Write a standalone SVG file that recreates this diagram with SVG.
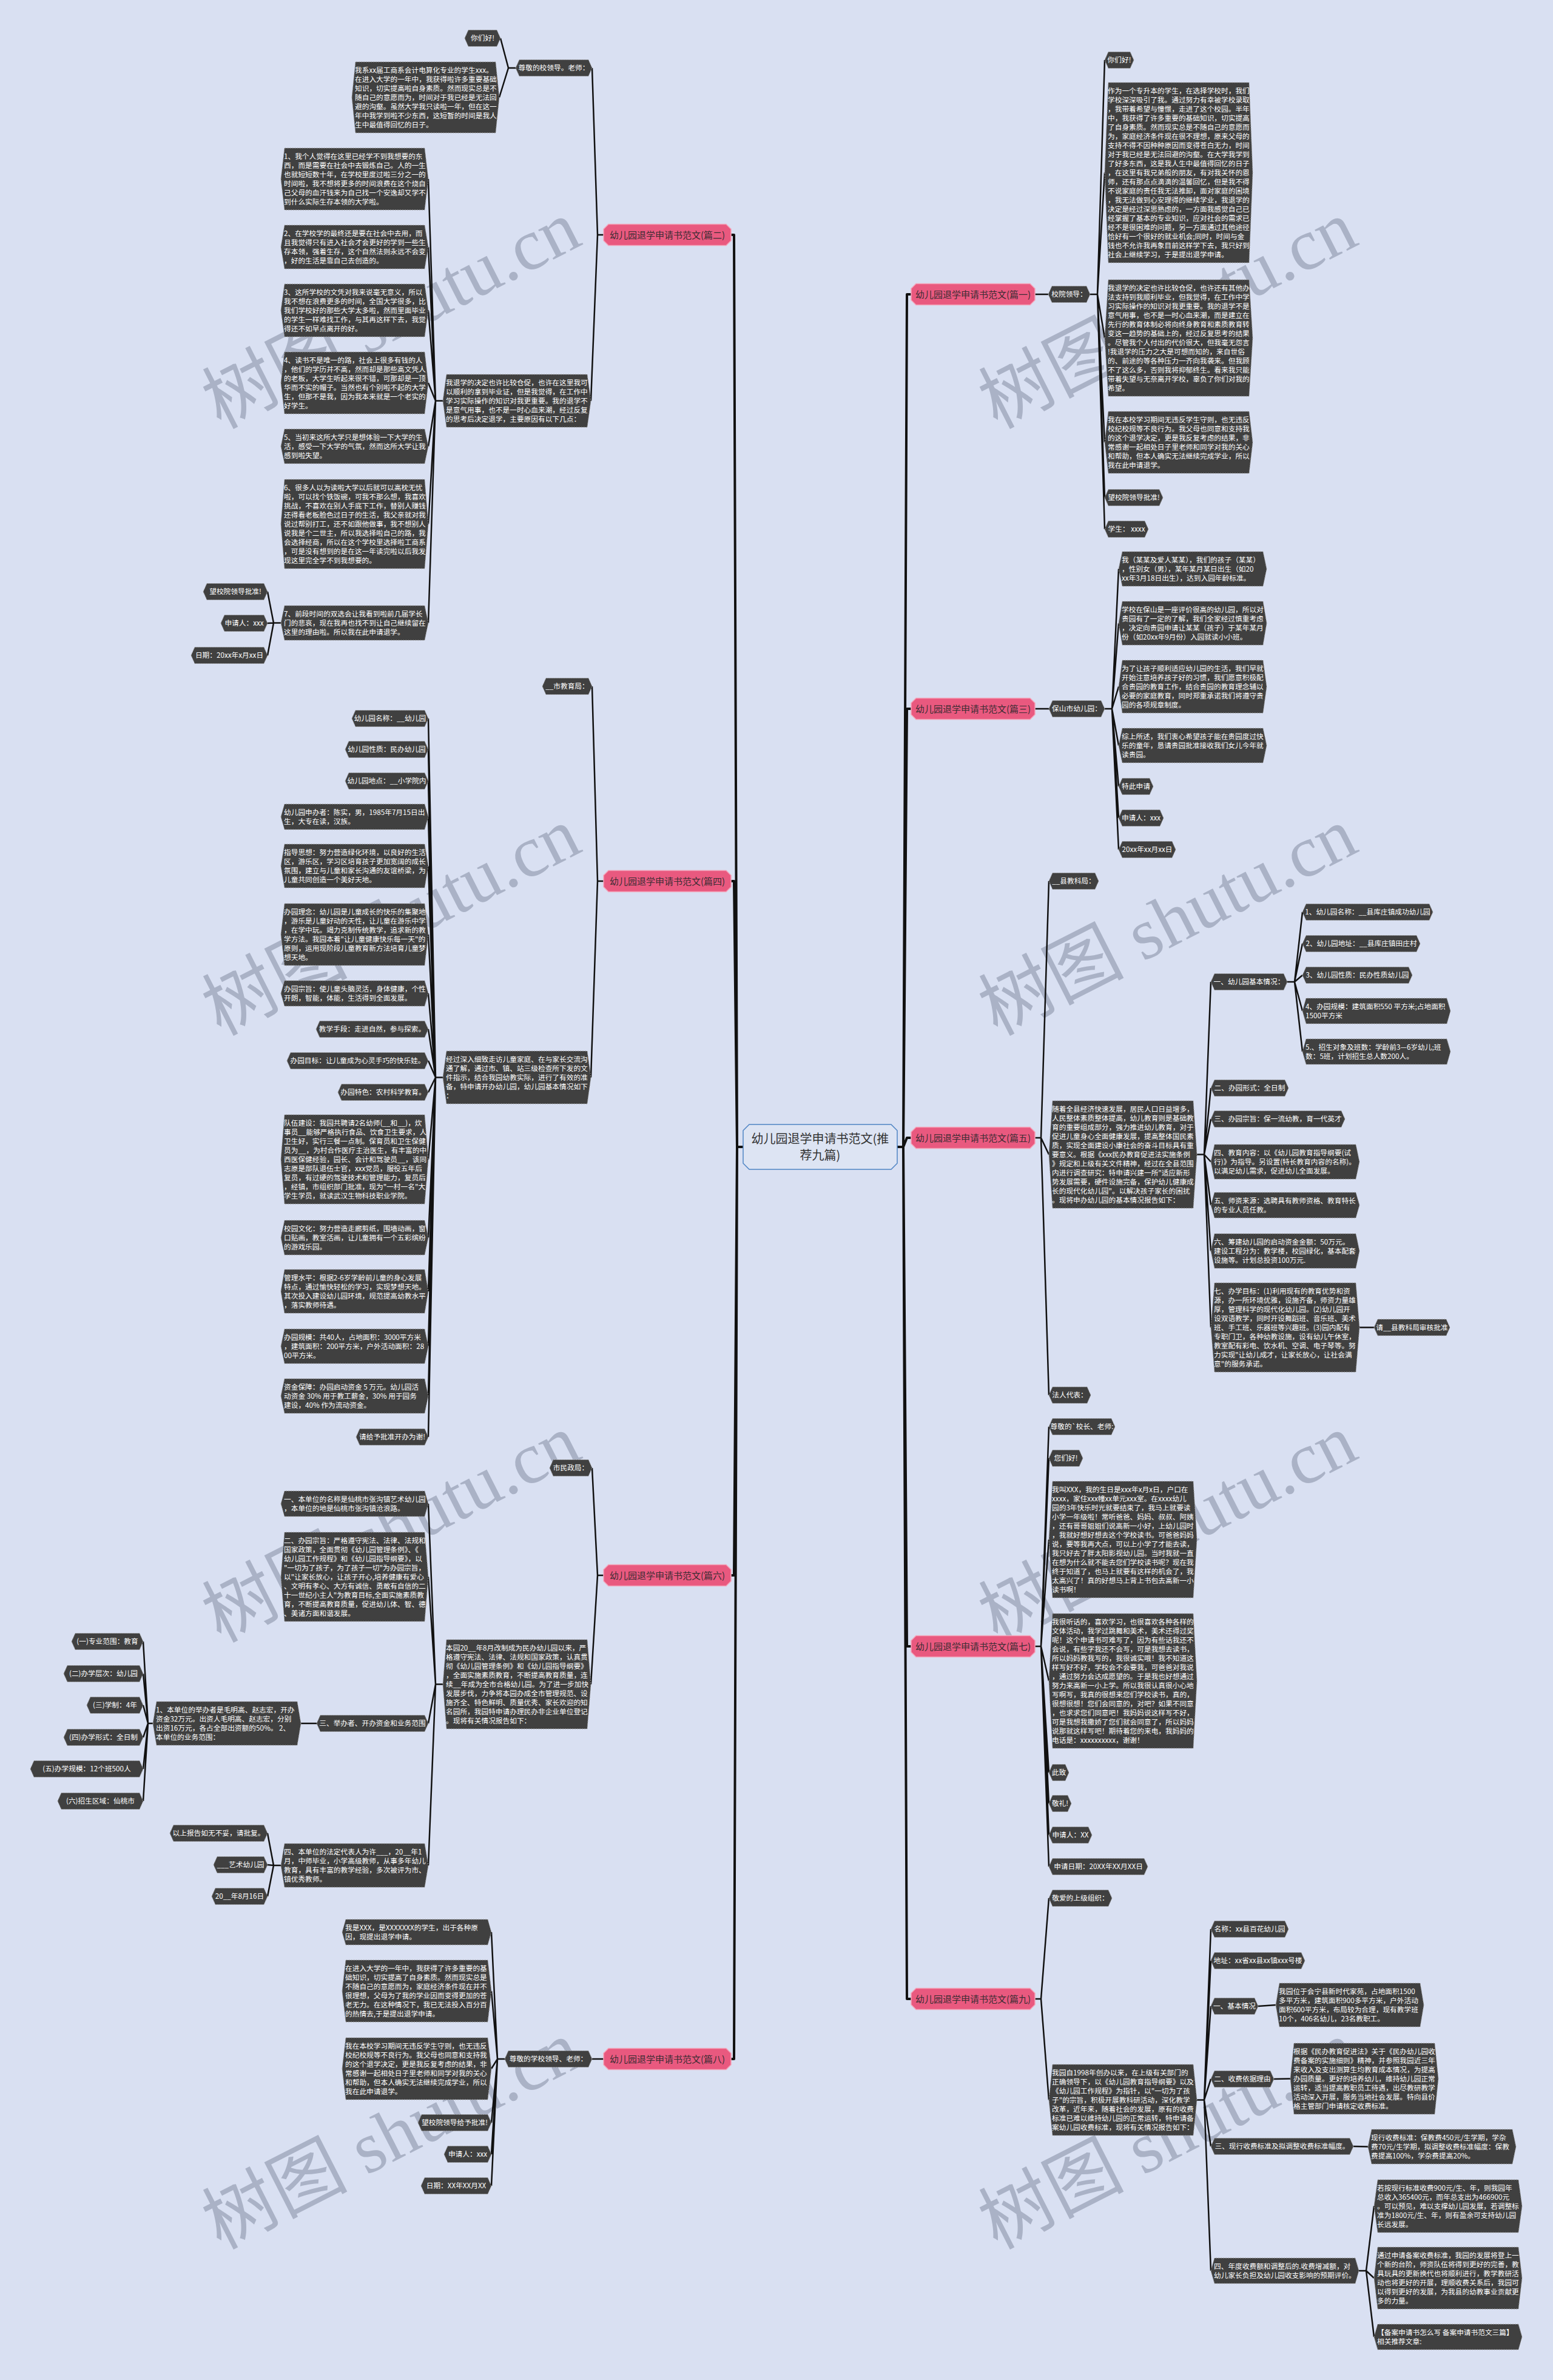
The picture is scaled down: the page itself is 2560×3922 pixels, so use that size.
<svg xmlns="http://www.w3.org/2000/svg" width="2560" height="3922" viewBox="0 0 2560 3922">
<style>
.bg{fill:#d9e0f2}
.wm{font-family:"Liberation Serif","Noto Sans CJK SC",serif;font-size:120px;fill:#aab2c6;text-anchor:middle}
.ln{fill:none;stroke:#111;stroke-width:2.5;stroke-linejoin:round}
.tr{stroke-width:4}
.n polygon{fill:#404040;stroke:#9a9a9a;stroke-width:1;stroke-dasharray:2 2}
.n text{font-family:"Noto Sans CJK SC","Noto Sans",sans-serif;font-size:11.7px;fill:#fff}
.c text{text-anchor:middle}
.p polygon{fill:#e9597f;stroke:#f4a3b9;stroke-width:1.5}
.p text{font-family:"Noto Sans CJK SC","Noto Sans",sans-serif;font-size:15px;fill:#3a2c33;text-anchor:middle}
.m polygon{fill:#dde4f3;stroke:#4f84c4;stroke-width:1.5}
.m text{font-family:"Noto Sans CJK SC","Noto Sans",sans-serif;font-size:20px;fill:#333;text-anchor:middle}
</style>
<rect class="bg" x="0" y="0" width="2560" height="3922"/>
<g id="watermarks">
<text class="wm" x="645" y="559" transform="rotate(-27 645 519)">树图 shutu.cn</text>
<text class="wm" x="1925" y="559" transform="rotate(-27 1925 519)">树图 shutu.cn</text>
<text class="wm" x="645" y="1559" transform="rotate(-27 645 1519)">树图 shutu.cn</text>
<text class="wm" x="1925" y="1559" transform="rotate(-27 1925 1519)">树图 shutu.cn</text>
<text class="wm" x="645" y="2559" transform="rotate(-27 645 2519)">树图 shutu.cn</text>
<text class="wm" x="1925" y="2559" transform="rotate(-27 1925 2519)">树图 shutu.cn</text>
<text class="wm" x="645" y="3559" transform="rotate(-27 645 3519)">树图 shutu.cn</text>
<text class="wm" x="1925" y="3559" transform="rotate(-27 1925 3519)">树图 shutu.cn</text>
</g>
<g id="connectors">
<path class="ln tr" d="M1225 1890H1215L1210 387H1205 M1225 1890H1215L1210 1452H1205 M1225 1890H1215L1210 2596H1205 M1225 1890H1215L1210 3393H1205"/>
<path class="ln tr" d="M1479 1890H1489L1495 485H1502 M1479 1890H1489L1495 1168H1502 M1479 1890H1489L1495 1875H1502 M1479 1890H1489L1495 2713H1502 M1479 1890H1489L1495 3294H1502"/>
<path class="ln" d="M995 387H985L976 112 M995 387H985L974 660.5"/>
<path class="ln" d="M850 112H838L825 63 M850 112H838L823 160.5"/>
<path class="ln" d="M730 660.5H718L706 295 M730 660.5H718L706 407 M730 660.5H718L706 511.5 M730 660.5H718L706 631 M730 660.5H718L706 735.5 M730 660.5H718L706 863.5 M730 660.5H718L706 1026.5"/>
<path class="ln" d="M463 1026.5H451L441 975 M463 1026.5H451L441 1027 M463 1026.5H451L441 1080"/>
<path class="ln" d="M995 1452H985L976 1131 M995 1452H985L974 1775.5"/>
<path class="ln" d="M730 1775.5H718L706 1184 M730 1775.5H718L706 1235 M730 1775.5H718L706 1287 M730 1775.5H718L706 1346 M730 1775.5H718L706 1427 M730 1775.5H718L706 1540 M730 1775.5H718L706 1637 M730 1775.5H718L706 1696 M730 1775.5H718L706 1748 M730 1775.5H718L706 1800 M730 1775.5H718L706 1910.5 M730 1775.5H718L706 2039.5 M730 1775.5H718L706 2128 M730 1775.5H718L706 2218.5 M730 1775.5H718L706 2300.5 M730 1775.5H718L706 2368"/>
<path class="ln" d="M995 2596H985L976 2419 M995 2596H985L974 2775.5"/>
<path class="ln" d="M730 2775.5H718L706 2478 M730 2775.5H718L706 2598.5 M730 2775.5H718L706 2840 M730 2775.5H718L706 3074"/>
<path class="ln" d="M522 2840H496"/>
<path class="ln" d="M252 2840H244L236 2705 M252 2840H244L236 2758 M252 2840H244L236 2810 M252 2840H244L236 2863 M252 2840H244L236 2915 M252 2840H244L236 2968"/>
<path class="ln" d="M463 3074H451L441 3021 M463 3074H451L441 3073 M463 3074H451L441 3125"/>
<path class="ln" d="M995 3393H976"/>
<path class="ln" d="M832 3393H820L810 3184 M832 3393H820L810 3281 M832 3393H820L810 3409 M832 3393H820L810 3498 M832 3393H820L810 3550 M832 3393H820L810 3602"/>
<path class="ln" d="M1706 485H1728"/>
<path class="ln" d="M1797 485H1809L1821 99 M1797 485H1809L1821 284.5 M1797 485H1809L1821 557 M1797 485H1809L1821 729 M1797 485H1809L1821 820 M1797 485H1809L1821 872"/>
<path class="ln" d="M1706 1168H1729"/>
<path class="ln" d="M1821 1168H1833L1844 937.5 M1821 1168H1833L1844 1027 M1821 1168H1833L1844 1131.5 M1821 1168H1833L1844 1228.5 M1821 1168H1833L1844 1296 M1821 1168H1833L1844 1348 M1821 1168H1833L1844 1400"/>
<path class="ln" d="M1706 1875H1716L1729 1452 M1706 1875H1716L1729 1902.5 M1706 1875H1716L1729 2299"/>
<path class="ln" d="M1973 1902.5H1985L1996 1618 M1973 1902.5H1985L1996 1793 M1973 1902.5H1985L1996 1844 M1973 1902.5H1985L1996 1914.5 M1973 1902.5H1985L1996 1986 M1973 1902.5H1985L1996 2061.5 M1973 1902.5H1985L1996 2187.5"/>
<path class="ln" d="M2122 1618H2134L2147 1503 M2122 1618H2134L2147 1555 M2122 1618H2134L2147 1607 M2122 1618H2134L2147 1666 M2122 1618H2134L2147 1733"/>
<path class="ln" d="M2241 2187.5H2265"/>
<path class="ln" d="M1706 2713H1716L1729 2351 M1706 2713H1716L1729 2403 M1706 2713H1716L1729 2537 M1706 2713H1716L1729 2770 M1706 2713H1716L1729 2921 M1706 2713H1716L1729 2972 M1706 2713H1716L1729 3024 M1706 2713H1716L1729 3076"/>
<path class="ln" d="M1706 3294H1716L1729 3128 M1706 3294H1716L1729 3460.5"/>
<path class="ln" d="M1973 3460.5H1985L1996 3179 M1973 3460.5H1985L1996 3231 M1973 3460.5H1985L1996 3306 M1973 3460.5H1985L1996 3426 M1973 3460.5H1985L1996 3537 M1973 3460.5H1985L1996 3742"/>
<path class="ln" d="M2074 3306L2103 3304 M2100 3426L2127 3425.5 M2231 3537L2255 3537.5"/>
<path class="ln" d="M2240 3742H2252L2265 3635.5 M2240 3742H2252L2265 3754 M2240 3742H2252L2265 3851"/>
</g>
<g id="center" class="m"><polygon points="1225,1863 1235,1853 1469,1853 1479,1863 1479,1917 1469,1927 1235,1927 1225,1917"/><text x="1352" y="1884">幼儿园退学申请书范文(推</text><text x="1352" y="1911">荐九篇)</text></g>
<g id="p2" class="p"><polygon points="995,377.5 1003,369.5 1197,369.5 1205,377.5 1205,396.5 1197,404.5 1003,404.5 995,396.5"/><text x="1100" y="392.5">幼儿园退学申请书范文(篇二)</text></g>
<g id="p4" class="p"><polygon points="995,1442.5 1003,1434.5 1197,1434.5 1205,1442.5 1205,1461.5 1197,1469.5 1003,1469.5 995,1461.5"/><text x="1100" y="1457.5">幼儿园退学申请书范文(篇四)</text></g>
<g id="p6" class="p"><polygon points="995,2586.5 1003,2578.5 1197,2578.5 1205,2586.5 1205,2605.5 1197,2613.5 1003,2613.5 995,2605.5"/><text x="1100" y="2601.5">幼儿园退学申请书范文(篇六)</text></g>
<g id="p8" class="p"><polygon points="995,3383.5 1003,3375.5 1197,3375.5 1205,3383.5 1205,3402.5 1197,3410.5 1003,3410.5 995,3402.5"/><text x="1100" y="3398.5">幼儿园退学申请书范文(篇八)</text></g>
<g id="p1" class="p"><polygon points="1502,475.5 1510,467.5 1698,467.5 1706,475.5 1706,494.5 1698,502.5 1510,502.5 1502,494.5"/><text x="1604" y="490.5">幼儿园退学申请书范文(篇一)</text></g>
<g id="p3" class="p"><polygon points="1502,1158.5 1510,1150.5 1698,1150.5 1706,1158.5 1706,1177.5 1698,1185.5 1510,1185.5 1502,1177.5"/><text x="1604" y="1173.5">幼儿园退学申请书范文(篇三)</text></g>
<g id="p5" class="p"><polygon points="1502,1865.5 1510,1857.5 1698,1857.5 1706,1865.5 1706,1884.5 1698,1892.5 1510,1892.5 1502,1884.5"/><text x="1604" y="1880.5">幼儿园退学申请书范文(篇五)</text></g>
<g id="p7" class="p"><polygon points="1502,2703.5 1510,2695.5 1698,2695.5 1706,2703.5 1706,2722.5 1698,2730.5 1510,2730.5 1502,2722.5"/><text x="1604" y="2718.5">幼儿园退学申请书范文(篇七)</text></g>
<g id="p9" class="p"><polygon points="1502,3284.5 1510,3276.5 1698,3276.5 1706,3284.5 1706,3303.5 1698,3311.5 1510,3311.5 1502,3303.5"/><text x="1604" y="3299.5">幼儿园退学申请书范文(篇九)</text></g>

<g id="a1" class="n c"><polygon points="850,112 856,98.5 970,98.5 976,112 970,125.5 856,125.5"/><text x="913" y="116.3">尊敬的校领导。老师：</text></g>
<g id="a1a" class="n c"><polygon points="766,63 772,49.5 819,49.5 825,63 819,76.5 772,76.5"/><text x="795.5" y="67.3">你们好!</text></g>
<g id="a1b" class="n"><polygon points="580,160.5 586,102 817,102 823,160.5 817,219 586,219"/><text x="585" y="120"><tspan x="585">我系xx届工商系会计电算化专业的学生xxx。</tspan><tspan x="585" dy="15">在进入大学的一年中，我获得啦许多重要基础</tspan><tspan x="585" dy="15">知识，切实提高啦自身素质。然而现实总是不</tspan><tspan x="585" dy="15">随自己的意愿而为，时间对于我已经是无法回</tspan><tspan x="585" dy="15">避的沟壑。虽然大学我只读啦一年，但在这一</tspan><tspan x="585" dy="15">年中我学到啦不少东西，这短暂的时间是我人</tspan><tspan x="585" dy="15">生中最值得回忆的日子。</tspan></text></g>
<g id="b1" class="n"><polygon points="730,660.5 736,617 968,617 974,660.5 968,704 736,704"/><text x="735" y="635"><tspan x="735">我退学的决定也许比较仓促，也许在这里我可</tspan><tspan x="735" dy="15">以顺利的拿到毕业证，但是我觉得，在工作中</tspan><tspan x="735" dy="15">学习实际操作的知识对我更重要。我的退学不</tspan><tspan x="735" dy="15">是意气用事，也不是一时心血来潮，经过反复</tspan><tspan x="735" dy="15">的思考后决定退学，主要原因有以下几点：</tspan></text></g>
<g id="b1-1" class="n"><polygon points="463,295 469,244 700,244 706,295 700,346 469,346"/><text x="468" y="262"><tspan x="468">1、我个人觉得在这里已经学不到我想要的东</tspan><tspan x="468" dy="15">西，而是需要在社会中去锻炼自己。人的一生</tspan><tspan x="468" dy="15">也就短短数十年，在学校里度过啦三分之一的</tspan><tspan x="468" dy="15">时间啦，我不想将更多的时间浪费在这个烧自</tspan><tspan x="468" dy="15">己父母的血汗钱来为自己找一个安逸却又学不</tspan><tspan x="468" dy="15">到什么实际生存本领的大学啦。</tspan></text></g>
<g id="b1-2" class="n"><polygon points="463,407 469,371 700,371 706,407 700,443 469,443"/><text x="468" y="389"><tspan x="468">2、在学校学的最终还是要在社会中去用，而</tspan><tspan x="468" dy="15">且我觉得只有进入社会才会更好的学到一些生</tspan><tspan x="468" dy="15">存本领，强着生存，这个自然法则永远不会变</tspan><tspan x="468" dy="15">，好的生活是靠自己去创造的。</tspan></text></g>
<g id="b1-3" class="n"><polygon points="463,511.5 469,468 700,468 706,511.5 700,555 469,555"/><text x="468" y="486"><tspan x="468">3、这所学校的文凭对我来说毫无意义，所以</tspan><tspan x="468" dy="15">我不想在浪费更多的时间，全国大学很多，比</tspan><tspan x="468" dy="15">我们学校好的那些大学太多啦，然而里面毕业</tspan><tspan x="468" dy="15">的学生一样难找工作，与其再这样下去，我觉</tspan><tspan x="468" dy="15">得还不如早点离开的好。</tspan></text></g>
<g id="b1-4" class="n"><polygon points="463,631 469,580 700,580 706,631 700,682 469,682"/><text x="468" y="598"><tspan x="468">4、读书不是唯一的路，社会上很多有钱的人</tspan><tspan x="468" dy="15">，他们的学历并不高，然而却是那些高文凭人</tspan><tspan x="468" dy="15">的老板，大学生听起来很不错，可那却是一顶</tspan><tspan x="468" dy="15">华而不实的帽子。当然也有个别啦不起的大学</tspan><tspan x="468" dy="15">生，但那不是我，因为我本来就是一个老实的</tspan><tspan x="468" dy="15">好学生。</tspan></text></g>
<g id="b1-5" class="n"><polygon points="463,735.5 469,707 700,707 706,735.5 700,764 469,764"/><text x="468" y="725"><tspan x="468">5、当初来这所大学只是想体验一下大学的生</tspan><tspan x="468" dy="15">活，感受一下大学的气氛，然而这所大学让我</tspan><tspan x="468" dy="15">感到啦失望。</tspan></text></g>
<g id="b1-6" class="n"><polygon points="463,863.5 469,790 700,790 706,863.5 700,937 469,937"/><text x="468" y="808"><tspan x="468">6、很多人以为读啦大学以后就可以高枕无忧</tspan><tspan x="468" dy="15">啦，可以找个铁饭碗，可我不那么想，我喜欢</tspan><tspan x="468" dy="15">挑战，不喜欢在别人手底下工作，替别人赚钱</tspan><tspan x="468" dy="15">还得看老板脸色过日子的生活，我父亲就对我</tspan><tspan x="468" dy="15">说过帮别打工，还不如跟他做事，我不想别人</tspan><tspan x="468" dy="15">说我是个二世主，所以我选择啦自己的路，我</tspan><tspan x="468" dy="15">会选择经商，所以在这个学校里选择啦工商系</tspan><tspan x="468" dy="15">，可是没有想到的是在这一年读完啦以后我发</tspan><tspan x="468" dy="15">现这里完全学不到我想要的。</tspan></text></g>
<g id="b1-7" class="n"><polygon points="463,1026.5 469,998 700,998 706,1026.5 700,1055 469,1055"/><text x="468" y="1016"><tspan x="468">7、前段时间的双选会让我看到啦前几届学长</tspan><tspan x="468" dy="15">门的悲哀，现在我再也找不到让自己继续留在</tspan><tspan x="468" dy="15">这里的理由啦。所以我在此申请退学。</tspan></text></g>
<g id="b1-7a" class="n c"><polygon points="335,975 341,961.5 435,961.5 441,975 435,988.5 341,988.5"/><text x="388" y="979.3">望校院领导批准!</text></g>
<g id="b1-7b" class="n c"><polygon points="364,1027 370,1013.5 435,1013.5 441,1027 435,1040.5 370,1040.5"/><text x="402.5" y="1031.3">申请人：xxx</text></g>
<g id="b1-7c" class="n c"><polygon points="315,1080 321,1066.5 435,1066.5 441,1080 435,1093.5 321,1093.5"/><text x="378" y="1084.3">日期：20xx年x月xx日</text></g>

<g id="a2" class="n c"><polygon points="894,1131 900,1117.5 970,1117.5 976,1131 970,1144.5 900,1144.5"/><text x="935" y="1135.3">__市教育局：</text></g>
<g id="b2" class="n"><polygon points="730,1775.5 736,1732 968,1732 974,1775.5 968,1819 736,1819"/><text x="735" y="1750"><tspan x="735">经过深入细致走访儿童家庭、在与家长交流沟</tspan><tspan x="735" dy="15">通了解，通过市、镇、站三级检查所下发的文</tspan><tspan x="735" dy="15">件指示，结合我园幼教实际，进行了有效的准</tspan><tspan x="735" dy="15">备，特申请开办幼儿园，幼儿园基本情况如下</tspan><tspan x="735" dy="15">：</tspan></text></g>
<g id="c1" class="n c"><polygon points="580,1184 586,1170.5 700,1170.5 706,1184 700,1197.5 586,1197.5"/><text x="643" y="1188.3">幼儿园名称：__幼儿园</text></g>
<g id="c2" class="n c"><polygon points="569,1235 575,1221.5 700,1221.5 706,1235 700,1248.5 575,1248.5"/><text x="637.5" y="1239.3">幼儿园性质：民办幼儿园</text></g>
<g id="c3" class="n c"><polygon points="569,1287 575,1273.5 700,1273.5 706,1287 700,1300.5 575,1300.5"/><text x="637.5" y="1291.3">幼儿园地点：__小学院内</text></g>
<g id="c4" class="n"><polygon points="463,1346 469,1325 700,1325 706,1346 700,1367 469,1367"/><text x="468" y="1343"><tspan x="468">幼儿园申办者：陈实，男，1985年7月15日出</tspan><tspan x="468" dy="15">生，大专在读，汉族。</tspan></text></g>
<g id="c5" class="n"><polygon points="463,1427 469,1391 700,1391 706,1427 700,1463 469,1463"/><text x="468" y="1409"><tspan x="468">指导思想：努力营造绿化环境，以良好的生活</tspan><tspan x="468" dy="15">区，游乐区，学习区培育孩子更加宽阔的成长</tspan><tspan x="468" dy="15">氛围，建立与儿童和家长沟通的友谊桥梁，为</tspan><tspan x="468" dy="15">儿童共同创造一个美好天地。</tspan></text></g>
<g id="c6" class="n"><polygon points="463,1540 469,1489 700,1489 706,1540 700,1591 469,1591"/><text x="468" y="1507"><tspan x="468">办园理念：幼儿园是儿童成长的快乐的集聚地</tspan><tspan x="468" dy="15">，游乐是儿童好动的天性，让儿童在游乐中学</tspan><tspan x="468" dy="15">，在学中玩。竭力克制传统教学，追求新的教</tspan><tspan x="468" dy="15">学方法。我园本着"让儿童健康快乐每一天"的</tspan><tspan x="468" dy="15">原则，运用现阶段儿童教育新方法培育儿童梦</tspan><tspan x="468" dy="15">想天地。</tspan></text></g>
<g id="c7" class="n"><polygon points="463,1637 469,1616 700,1616 706,1637 700,1658 469,1658"/><text x="468" y="1634"><tspan x="468">办园宗旨：使儿童头脑灵活，身体健康，个性</tspan><tspan x="468" dy="15">开朗，智能，体能，生活得到全面发展。</tspan></text></g>
<g id="c8" class="n c"><polygon points="521,1696 527,1682.5 700,1682.5 706,1696 700,1709.5 527,1709.5"/><text x="613.5" y="1700.3">教学手段：走进自然，参与探索。</text></g>
<g id="c9" class="n c"><polygon points="473,1748 479,1734.5 700,1734.5 706,1748 700,1761.5 479,1761.5"/><text x="589.5" y="1752.3">办园目标：让儿童成为心灵手巧的快乐娃。</text></g>
<g id="c10" class="n c"><polygon points="557,1800 563,1786.5 700,1786.5 706,1800 700,1813.5 563,1813.5"/><text x="631.5" y="1804.3">办园特色：农村科学教育。</text></g>
<g id="c11" class="n"><polygon points="463,1910.5 469,1837 700,1837 706,1910.5 700,1984 469,1984"/><text x="468" y="1855"><tspan x="468">队伍建设：我园共聘请2名幼师(__和__)，炊</tspan><tspan x="468" dy="15">事员__能够严格执行食品、饮食卫生要求，人</tspan><tspan x="468" dy="15">卫生好，实行三餐一点制。保育员和卫生保健</tspan><tspan x="468" dy="15">员为__，为村合作医疗主治医生，有丰富的中</tspan><tspan x="468" dy="15">西医保健经验，园长、会计和驾驶员__，该同</tspan><tspan x="468" dy="15">志原是部队退伍士官，xxx党员，服役五年后</tspan><tspan x="468" dy="15">复员，有过硬的驾驶技术和管理能力，复员后</tspan><tspan x="468" dy="15">，经镇，市组织部门批准，现为"一村一名"大</tspan><tspan x="468" dy="15">学生学员，就读武汉生物科技职业学院。</tspan></text></g>
<g id="c12" class="n"><polygon points="463,2039.5 469,2011 700,2011 706,2039.5 700,2068 469,2068"/><text x="468" y="2029"><tspan x="468">校园文化：努力营造走廊剪纸，围墙动画，窗</tspan><tspan x="468" dy="15">口贴画，教室活画，让儿童拥有一个五彩缤纷</tspan><tspan x="468" dy="15">的游戏乐园。</tspan></text></g>
<g id="c13" class="n"><polygon points="463,2128 469,2092 700,2092 706,2128 700,2164 469,2164"/><text x="468" y="2110"><tspan x="468">管理水平：根据2-6岁学龄前儿童的身心发展</tspan><tspan x="468" dy="15">特点，通过愉快轻松的学习，实现梦想天地。</tspan><tspan x="468" dy="15">其次投入建设幼儿园环境，规范提高幼教水平</tspan><tspan x="468" dy="15">，落实教师待遇。</tspan></text></g>
<g id="c14" class="n"><polygon points="463,2218.5 469,2190 700,2190 706,2218.5 700,2247 469,2247"/><text x="468" y="2208"><tspan x="468">办园规模：共40人，占地面积：3000平方米</tspan><tspan x="468" dy="15">，建筑面积：200平方米，户外活动面积：28</tspan><tspan x="468" dy="15">00平方米。</tspan></text></g>
<g id="c15" class="n"><polygon points="463,2300.5 469,2272 700,2272 706,2300.5 700,2329 469,2329"/><text x="468" y="2290"><tspan x="468">资金保障：办园启动资金 5 万元。幼儿园活</tspan><tspan x="468" dy="15">动资金 30% 用于教工薪金，30% 用于园务</tspan><tspan x="468" dy="15">建设，40% 作为流动资金。</tspan></text></g>
<g id="c16" class="n c"><polygon points="587,2368 593,2354.5 700,2354.5 706,2368 700,2381.5 593,2381.5"/><text x="646.5" y="2372.3">请给予批准开办为谢!</text></g>

<g id="a3" class="n c"><polygon points="906,2419 912,2405.5 970,2405.5 976,2419 970,2432.5 912,2432.5"/><text x="941" y="2423.3">市民政局：</text></g>
<g id="b3" class="n"><polygon points="730,2775.5 736,2702 968,2702 974,2775.5 968,2849 736,2849"/><text x="735" y="2720"><tspan x="735">本园20__年8月改制成为民办幼儿园以来，严</tspan><tspan x="735" dy="15">格遵守宪法、法律、法规和国家政策，认真贯</tspan><tspan x="735" dy="15">彻《幼儿园管理条例》和《幼儿园指导纲要》</tspan><tspan x="735" dy="15">，全面实施素质教育，不断提高教育质量，连</tspan><tspan x="735" dy="15">续__年成为全市合格幼儿园。为了进一步加快</tspan><tspan x="735" dy="15">发展步伐，力争将本园办成全市管理规范、设</tspan><tspan x="735" dy="15">施齐全、特色鲜明、质量优秀、家长欢迎的知</tspan><tspan x="735" dy="15">名园所，我园特申请办理民办非企业单位登记</tspan><tspan x="735" dy="15">。现将有关情况报告如下：</tspan></text></g>
<g id="d1" class="n"><polygon points="463,2478 469,2457 700,2457 706,2478 700,2499 469,2499"/><text x="468" y="2475"><tspan x="468">一、本单位的名称是仙桃市张沟镇艺术幼儿园</tspan><tspan x="468" dy="15">，本单位的地是仙桃市张沟镇沧浪路。</tspan></text></g>
<g id="d2" class="n"><polygon points="463,2598.5 469,2525 700,2525 706,2598.5 700,2672 469,2672"/><text x="468" y="2543"><tspan x="468">二、办园宗旨：严格遵守宪法、法律、法规和</tspan><tspan x="468" dy="15">国家政策，全面贯彻《幼儿园管理条例》、《</tspan><tspan x="468" dy="15">幼儿园工作规程》和《幼儿园指导纲要》，以</tspan><tspan x="468" dy="15">"一切为了孩子，为了孩子一切"为办园宗旨，</tspan><tspan x="468" dy="15">以"让家长放心，让孩子开心,培养健康有爱心</tspan><tspan x="468" dy="15">、文明有孝心、大方有诚信、勇敢有自信的二</tspan><tspan x="468" dy="15">十一世纪小主人"为教育目标,全面实施素质教</tspan><tspan x="468" dy="15">育，不断提高教育质量，促进幼儿体、智、德</tspan><tspan x="468" dy="15">、美诸方面和谐发展。</tspan></text></g>
<g id="d3" class="n c"><polygon points="522,2840 528,2826.5 700,2826.5 706,2840 700,2853.5 528,2853.5"/><text x="614" y="2844.3">三、举办者、开办资金和业务范围</text></g>
<g id="d3a" class="n"><polygon points="252,2840 258,2804 490,2804 496,2840 490,2876 258,2876"/><text x="257" y="2822"><tspan x="257">1、本单位的举办者是毛明高、赵志宏，开办</tspan><tspan x="257" dy="15">资金32万元。出资人毛明高、赵志宏，分别</tspan><tspan x="257" dy="15">出资16万元，各占全部出资额的50%。 2、</tspan><tspan x="257" dy="15">本单位的业务范围：</tspan></text></g>
<g id="d3a1" class="n c"><polygon points="118,2705 124,2691.5 230,2691.5 236,2705 230,2718.5 124,2718.5"/><text x="177" y="2709.3">(一)专业范围：教育</text></g>
<g id="d3a2" class="n c"><polygon points="105,2758 111,2744.5 230,2744.5 236,2758 230,2771.5 111,2771.5"/><text x="170.5" y="2762.3">(二)办学层次：幼儿园</text></g>
<g id="d3a3" class="n c"><polygon points="143,2810 149,2796.5 230,2796.5 236,2810 230,2823.5 149,2823.5"/><text x="189.5" y="2814.3">(三)学制：4年</text></g>
<g id="d3a4" class="n c"><polygon points="105,2863 111,2849.5 230,2849.5 236,2863 230,2876.5 111,2876.5"/><text x="170.5" y="2867.3">(四)办学形式：全日制</text></g>
<g id="d3a5" class="n c"><polygon points="50,2915 56,2901.5 230,2901.5 236,2915 230,2928.5 56,2928.5"/><text x="143" y="2919.3">(五)办学规模：12个班500人</text></g>
<g id="d3a6" class="n c"><polygon points="95,2968 101,2954.5 230,2954.5 236,2968 230,2981.5 101,2981.5"/><text x="165.5" y="2972.3">(六)招生区域：仙桃市</text></g>
<g id="d4" class="n"><polygon points="463,3074 469,3038 700,3038 706,3074 700,3110 469,3110"/><text x="468" y="3056"><tspan x="468">四、本单位的法定代表人为许___，20__年1</tspan><tspan x="468" dy="15">月，中师毕业，小学高级教师，从事多年幼儿</tspan><tspan x="468" dy="15">教育，具有丰富的教学经验，多次被评为市、</tspan><tspan x="468" dy="15">镇优秀教师。</tspan></text></g>
<g id="d4a" class="n c"><polygon points="280,3021 286,3007.5 435,3007.5 441,3021 435,3034.5 286,3034.5"/><text x="360.5" y="3025.3">以上报告如无不妥，请批复。</text></g>
<g id="d4b" class="n c"><polygon points="352,3073 358,3059.5 435,3059.5 441,3073 435,3086.5 358,3086.5"/><text x="396.5" y="3077.3">___艺术幼儿园</text></g>
<g id="d4c" class="n c"><polygon points="349,3125 355,3111.5 435,3111.5 441,3125 435,3138.5 355,3138.5"/><text x="395" y="3129.3">20__年8月16日</text></g>

<g id="a4" class="n c"><polygon points="832,3393 838,3379.5 970,3379.5 976,3393 970,3406.5 838,3406.5"/><text x="904" y="3397.3">尊敬的学校领导、老师：</text></g>
<g id="e1" class="n"><polygon points="564,3184 570,3163 804,3163 810,3184 804,3205 570,3205"/><text x="569" y="3181"><tspan x="569">我是XXX，是XXXXXXX的学生，出于各种原</tspan><tspan x="569" dy="15">因，现提出退学申请。</tspan></text></g>
<g id="e2" class="n"><polygon points="564,3281 570,3230 804,3230 810,3281 804,3332 570,3332"/><text x="569" y="3248"><tspan x="569">在进入大学的一年中，我获得了许多重要的基</tspan><tspan x="569" dy="15">础知识，切实提高了自身素质。然而现实总是</tspan><tspan x="569" dy="15">不随自己的意愿而为，家庭经济条件现在并不</tspan><tspan x="569" dy="15">很理想，父母为了我的学业因而变得更加的苍</tspan><tspan x="569" dy="15">老无力。在这种情况下，我已无法投入百分百</tspan><tspan x="569" dy="15">的热情去,于是提出退学申请。</tspan></text></g>
<g id="e3" class="n"><polygon points="564,3409 570,3358 804,3358 810,3409 804,3460 570,3460"/><text x="569" y="3376"><tspan x="569">我在本校学习期间无违反学生守则，也无违反</tspan><tspan x="569" dy="15">校纪校规等不良行为。我父母也同意和支持我</tspan><tspan x="569" dy="15">的这个退学决定，更是我反复考虑的结果，非</tspan><tspan x="569" dy="15">常感谢一起相处日子里老师和同学对我的关心</tspan><tspan x="569" dy="15">和帮助，但本人确实无法继续完成学业，所以</tspan><tspan x="569" dy="15">我在此申请退学。</tspan></text></g>
<g id="e4" class="n c"><polygon points="689,3498 695,3484.5 804,3484.5 810,3498 804,3511.5 695,3511.5"/><text x="749.5" y="3502.3">望校院领导给予批准!</text></g>
<g id="e5" class="n c"><polygon points="732,3550 738,3536.5 804,3536.5 810,3550 804,3563.5 738,3563.5"/><text x="771" y="3554.3">申请人：xxx</text></g>
<g id="e6" class="n c"><polygon points="694,3602 700,3588.5 804,3588.5 810,3602 804,3615.5 700,3615.5"/><text x="752" y="3606.3">日期：XX年XX月XX</text></g>

<g id="r1" class="n c"><polygon points="1728,485 1734,471.5 1791,471.5 1797,485 1791,498.5 1734,498.5"/><text x="1762.5" y="489.3">校院领导：</text></g>
<g id="f1" class="n c"><polygon points="1821,99 1827,85.5 1863,85.5 1869,99 1863,112.5 1827,112.5"/><text x="1845" y="103.3">你们好!</text></g>
<g id="f2" class="n"><polygon points="1821,284.5 1827,136 2059,136 2065,284.5 2059,433 1827,433"/><text x="1826" y="154"><tspan x="1826">作为一个专升本的学生，在选择学校时，我们</tspan><tspan x="1826" dy="15">学校深深吸引了我。通过努力有幸被学校录取</tspan><tspan x="1826" dy="15">，我带着希望与憧憬，走进了这个校园。半年</tspan><tspan x="1826" dy="15">中，我获得了许多重要的基础知识，切实提高</tspan><tspan x="1826" dy="15">了自身素质。然而现实总是不随自己的意愿而</tspan><tspan x="1826" dy="15">为，家庭经济条件现在很不理想，原来父母的</tspan><tspan x="1826" dy="15">支持不得不因种种原因而变得苍白无力，时间</tspan><tspan x="1826" dy="15">对于我已经是无法回避的沟壑。在大学我学到</tspan><tspan x="1826" dy="15">了好多东西，这是我人生中最值得回忆的日子</tspan><tspan x="1826" dy="15">，在这里有我兄弟般的朋友，有对我关怀的恩</tspan><tspan x="1826" dy="15">师，还有那点点滴滴的温馨回忆，但是我不得</tspan><tspan x="1826" dy="15">不说家庭的责任我无法推卸，面对家庭的困境</tspan><tspan x="1826" dy="15">，我无法做到心安理得的继续学业，我退学的</tspan><tspan x="1826" dy="15">决定是经过深思熟虑的，一方面我感觉自己已</tspan><tspan x="1826" dy="15">经掌握了基本的专业知识，应对社会的需求已</tspan><tspan x="1826" dy="15">经不是很困难的问题，另一方面通过其他途径</tspan><tspan x="1826" dy="15">恰好有一个很好的就业机会;同时，时间与金</tspan><tspan x="1826" dy="15">钱也不允许我再象目前这样学下去，我只好到</tspan><tspan x="1826" dy="15">社会上继续学习，于是提出退学申请。</tspan></text></g>
<g id="f3" class="n"><polygon points="1821,557 1827,461 2059,461 2065,557 2059,653 1827,653"/><text x="1826" y="479"><tspan x="1826">我退学的决定也许比较仓促，也许还有其他办</tspan><tspan x="1826" dy="15">法支持到我顺利毕业，但我觉得，在工作中学</tspan><tspan x="1826" dy="15">习实际操作的知识对我更重要。我的退学不是</tspan><tspan x="1826" dy="15">意气用事，也不是一时心血来潮，而是建立在</tspan><tspan x="1826" dy="15">先行的教育体制必将向终身教育和素质教育转</tspan><tspan x="1826" dy="15">变这一趋势的基础上的，经过反复思考的结果</tspan><tspan x="1826" dy="15">。尽管我个人付出的代价很大，但我毫无怨言</tspan><tspan x="1826" dy="15">!我退学的压力之大是可想而知的，来自世俗</tspan><tspan x="1826" dy="15">的、前途的等各种压力一齐向我袭来。但我顾</tspan><tspan x="1826" dy="15">不了这么多，否则我将抑郁终生。看来我只能</tspan><tspan x="1826" dy="15">带着失望与无奈离开学校，辜负了你们对我的</tspan><tspan x="1826" dy="15">希望。</tspan></text></g>
<g id="f4" class="n"><polygon points="1821,729 1827,678 2059,678 2065,729 2059,780 1827,780"/><text x="1826" y="696"><tspan x="1826">我在本校学习期间无违反学生守则，也无违反</tspan><tspan x="1826" dy="15">校纪校规等不良行为。我父母也同意和支持我</tspan><tspan x="1826" dy="15">的这个退学决定，更是我反复考虑的结果，非</tspan><tspan x="1826" dy="15">常感谢一起相处日子里老师和同学对我的关心</tspan><tspan x="1826" dy="15">和帮助，但本人确实无法继续完成学业，所以</tspan><tspan x="1826" dy="15">我在此申请退学。</tspan></text></g>
<g id="f5" class="n c"><polygon points="1821,820 1827,806.5 1911,806.5 1917,820 1911,833.5 1827,833.5"/><text x="1869" y="824.3">望校院领导批准!</text></g>
<g id="f6" class="n c"><polygon points="1821,872 1827,858.5 1887,858.5 1893,872 1887,885.5 1827,885.5"/><text x="1857" y="876.3">学生： xxxx</text></g>

<g id="r3" class="n c"><polygon points="1729,1168 1735,1154.5 1815,1154.5 1821,1168 1815,1181.5 1735,1181.5"/><text x="1775" y="1172.3">保山市幼儿园：</text></g>
<g id="g1" class="n"><polygon points="1844,937.5 1850,909 2082,909 2088,937.5 2082,966 1850,966"/><text x="1849" y="927"><tspan x="1849">我（某某及爱人某某），我们的孩子（某某）</tspan><tspan x="1849" dy="15">，性别女（男），某年某月某日出生（如20</tspan><tspan x="1849" dy="15">xx年3月18日出生），达到入园年龄标准。</tspan></text></g>
<g id="g2" class="n"><polygon points="1844,1027 1850,991 2082,991 2088,1027 2082,1063 1850,1063"/><text x="1849" y="1009"><tspan x="1849">学校在保山是一座评价很高的幼儿园，所以对</tspan><tspan x="1849" dy="15">贵园有了一定的了解，我们全家经过慎重考虑</tspan><tspan x="1849" dy="15">，决定向贵园申请让某某（孩子）于某年某月</tspan><tspan x="1849" dy="15">份（如20xx年9月份）入园就读小小班。</tspan></text></g>
<g id="g3" class="n"><polygon points="1844,1131.5 1850,1088 2082,1088 2088,1131.5 2082,1175 1850,1175"/><text x="1849" y="1106"><tspan x="1849">为了让孩子顺利适应幼儿园的生活，我们早就</tspan><tspan x="1849" dy="15">开始注意培养孩子好的习惯，我们愿意积极配</tspan><tspan x="1849" dy="15">合贵园的教育工作，结合贵园的教育理念辅以</tspan><tspan x="1849" dy="15">必要的家庭教育，同时郑重承诺我们将遵守贵</tspan><tspan x="1849" dy="15">园的各项规章制度。</tspan></text></g>
<g id="g4" class="n"><polygon points="1844,1228.5 1850,1200 2082,1200 2088,1228.5 2082,1257 1850,1257"/><text x="1849" y="1218"><tspan x="1849">综上所述，我们衷心希望孩子能在贵园度过快</tspan><tspan x="1849" dy="15">乐的童年，恳请贵园批准接收我们女儿今年就</tspan><tspan x="1849" dy="15">读贵园。</tspan></text></g>
<g id="g5" class="n c"><polygon points="1844,1296 1850,1282.5 1895,1282.5 1901,1296 1895,1309.5 1850,1309.5"/><text x="1872.5" y="1300.3">特此申请</text></g>
<g id="g6" class="n c"><polygon points="1844,1348 1850,1334.5 1912,1334.5 1918,1348 1912,1361.5 1850,1361.5"/><text x="1881" y="1352.3">申请人：xxx</text></g>
<g id="g7" class="n c"><polygon points="1844,1400 1850,1386.5 1932,1386.5 1938,1400 1932,1413.5 1850,1413.5"/><text x="1891" y="1404.3">20xx年xx月xx日</text></g>

<g id="h1" class="n c"><polygon points="1729,1452 1735,1438.5 1805,1438.5 1811,1452 1805,1465.5 1735,1465.5"/><text x="1770" y="1456.3">__县教科局：</text></g>
<g id="h2" class="n"><polygon points="1729,1902.5 1735,1814 1967,1814 1973,1902.5 1967,1991 1735,1991"/><text x="1734" y="1832"><tspan x="1734">随着全县经济快速发展，居民人口日益增多，</tspan><tspan x="1734" dy="15">人民整体素质整体提高，幼儿教育则是基础教</tspan><tspan x="1734" dy="15">育的重要组成部分，强力推进幼儿教育，对于</tspan><tspan x="1734" dy="15">促进儿童身心全面健康发展，提高整体国民素</tspan><tspan x="1734" dy="15">质，实现全面建设小康社会的奋斗目标具有重</tspan><tspan x="1734" dy="15">要意义。根据《xxx民办教育促进法实施条例</tspan><tspan x="1734" dy="15">》规定和上级有关文件精神，经过在全县范围</tspan><tspan x="1734" dy="15">内进行调查研究：特申请兴建一所"适应新形</tspan><tspan x="1734" dy="15">势发展需要，硬件设施完备，保护幼儿健康成</tspan><tspan x="1734" dy="15">长的现代化幼儿园"。以解决孩子家长的困扰</tspan><tspan x="1734" dy="15">。现将申办幼儿园的基本情况报告如下：</tspan></text></g>
<g id="h3" class="n c"><polygon points="1729,2299 1735,2285.5 1792,2285.5 1798,2299 1792,2312.5 1735,2312.5"/><text x="1763.5" y="2303.3">法人代表：</text></g>
<g id="i1" class="n c"><polygon points="1996,1618 2002,1604.5 2116,1604.5 2122,1618 2116,1631.5 2002,1631.5"/><text x="2059" y="1622.3">一、幼儿园基本情况：</text></g>
<g id="j1" class="n c"><polygon points="2147,1503 2153,1489.5 2356,1489.5 2362,1503 2356,1516.5 2153,1516.5"/><text x="2254.5" y="1507.3">1、幼儿园名称：__县库庄镇成功幼儿园</text></g>
<g id="j2" class="n c"><polygon points="2147,1555 2153,1541.5 2335,1541.5 2341,1555 2335,1568.5 2153,1568.5"/><text x="2244" y="1559.3">2、幼儿园地址：__县库庄镇田庄村</text></g>
<g id="j3" class="n c"><polygon points="2147,1607 2153,1593.5 2322,1593.5 2328,1607 2322,1620.5 2153,1620.5"/><text x="2237.5" y="1611.3">3、幼儿园性质：民办性质幼儿园</text></g>
<g id="j4" class="n"><polygon points="2147,1666 2153,1645 2385,1645 2391,1666 2385,1687 2153,1687"/><text x="2152" y="1663"><tspan x="2152">4、办园规模：建筑面积550 平方米;占地面积</tspan><tspan x="2152" dy="15">1500平方米</tspan></text></g>
<g id="j5" class="n"><polygon points="2147,1733 2153,1712 2385,1712 2391,1733 2385,1754 2153,1754"/><text x="2152" y="1730"><tspan x="2152">5.、招生对象及班数：学龄前3—6岁幼儿;班</tspan><tspan x="2152" dy="15">数：5班，计划招生总人数200人。</tspan></text></g>
<g id="i2" class="n c"><polygon points="1996,1793 2002,1779.5 2118,1779.5 2124,1793 2118,1806.5 2002,1806.5"/><text x="2060" y="1797.3">二、办园形式：全日制</text></g>
<g id="i3" class="n c"><polygon points="1996,1844 2002,1830.5 2211,1830.5 2217,1844 2211,1857.5 2002,1857.5"/><text x="2106.5" y="1848.3">三、办园宗旨：保一流幼教，育一代英才</text></g>
<g id="i4" class="n"><polygon points="1996,1914.5 2002,1886 2235,1886 2241,1914.5 2235,1943 2002,1943"/><text x="2001" y="1904"><tspan x="2001">四、教育内容：以《幼儿园教育指导纲要(试</tspan><tspan x="2001" dy="15">行)》为指导。另设置(特长教育内容的名称)。</tspan><tspan x="2001" dy="15">以满足幼儿需求，促进幼儿全面发展。</tspan></text></g>
<g id="i5" class="n"><polygon points="1996,1986 2002,1965 2235,1965 2241,1986 2235,2007 2002,2007"/><text x="2001" y="1983"><tspan x="2001">五、师资来源：选聘具有教师资格、教育特长</tspan><tspan x="2001" dy="15">的专业人员任教。</tspan></text></g>
<g id="i6" class="n"><polygon points="1996,2061.5 2002,2033 2235,2033 2241,2061.5 2235,2090 2002,2090"/><text x="2001" y="2051"><tspan x="2001">六、筹建幼儿园的启动资金金额：50万元。</tspan><tspan x="2001" dy="15">建设工程分为：教学楼，校园绿化，基本配套</tspan><tspan x="2001" dy="15">设施等。计划总投资100万元.</tspan></text></g>
<g id="i7" class="n"><polygon points="1996,2187.5 2002,2114 2235,2114 2241,2187.5 2235,2261 2002,2261"/><text x="2001" y="2132"><tspan x="2001">七、办学目标：(1)利用现有的教育优势和资</tspan><tspan x="2001" dy="15">源，办一所环境优雅，设施齐备，师资力量雄</tspan><tspan x="2001" dy="15">厚，管理科学的现代化幼儿园。(2)幼儿园开</tspan><tspan x="2001" dy="15">设双语教学，同时开设舞蹈班、音乐班、美术</tspan><tspan x="2001" dy="15">班、手工班、乐器班等兴趣班。(3)园内配有</tspan><tspan x="2001" dy="15">专职门卫，各种幼教设施，设有幼儿午休室，</tspan><tspan x="2001" dy="15">教室配有彩电、饮水机、空调、电子琴等。努</tspan><tspan x="2001" dy="15">力实现"让幼儿成才，让家长放心，让社会满</tspan><tspan x="2001" dy="15">意"的服务承诺。</tspan></text></g>
<g id="i7a" class="n c"><polygon points="2265,2187.5 2271,2174 2384,2174 2390,2187.5 2384,2201 2271,2201"/><text x="2327.5" y="2191.8">请__县教科局审核批准</text></g>

<g id="k1" class="n c"><polygon points="1729,2351 1735,2337.5 1832,2337.5 1838,2351 1832,2364.5 1735,2364.5"/><text x="1783.5" y="2355.3">尊敬的`校长、老师:</text></g>
<g id="k2" class="n c"><polygon points="1729,2403 1735,2389.5 1779,2389.5 1785,2403 1779,2416.5 1735,2416.5"/><text x="1757" y="2407.3">您们好!</text></g>
<g id="k3" class="n"><polygon points="1729,2537 1735,2441 1967,2441 1973,2537 1967,2633 1735,2633"/><text x="1734" y="2459"><tspan x="1734">我叫XXX，我的生日是xxx年x月x日，户口在</tspan><tspan x="1734" dy="15">xxxx，家住xxx幢xx单元xxx室。在xxxx幼儿</tspan><tspan x="1734" dy="15">园的3年快乐时光就要结束了，我马上就要读</tspan><tspan x="1734" dy="15">小学一年级啦！常听爸爸、妈妈、叔叔、阿姨</tspan><tspan x="1734" dy="15">，还有哥哥姐姐们说高新一小好，上幼儿园时</tspan><tspan x="1734" dy="15">，我就好想好想去这个学校读书。可爸爸妈妈</tspan><tspan x="1734" dy="15">说，要等我再大点，可以上小学了才能去读，</tspan><tspan x="1734" dy="15">我只好去了胖太阳影视幼儿园。当时我就一直</tspan><tspan x="1734" dy="15">在想为什么就不能去您们学校读书呢？现在我</tspan><tspan x="1734" dy="15">终于知道了，也马上就要有这样的机会了，我</tspan><tspan x="1734" dy="15">太高兴了！真的好想马上背上书包去高新一小</tspan><tspan x="1734" dy="15">读书啊！</tspan></text></g>
<g id="k4" class="n"><polygon points="1729,2770 1735,2659 1967,2659 1973,2770 1967,2881 1735,2881"/><text x="1734" y="2677"><tspan x="1734">我很听话的，喜欢学习，也很喜欢各种各样的</tspan><tspan x="1734" dy="15">文体活动，我学过跳舞和美术，美术还得过奖</tspan><tspan x="1734" dy="15">呢！这个申请书可难写了，因为有些话我还不</tspan><tspan x="1734" dy="15">会说，有些字我还不会写，可是我想去读书，</tspan><tspan x="1734" dy="15">所以妈妈教我写的，我很诚实哦！我不知道这</tspan><tspan x="1734" dy="15">样写好不好，学校会不会要我，可爸爸对我说</tspan><tspan x="1734" dy="15">，通过努力会达成愿望的。于是我也好想通过</tspan><tspan x="1734" dy="15">努力来高新一小上学。所以我很认真很小心地</tspan><tspan x="1734" dy="15">写啊写，我真的很想来您们学校读书，真的，</tspan><tspan x="1734" dy="15">很想很想！您们会同意的，对吧？如果不同意</tspan><tspan x="1734" dy="15">，也求求您们同意吧！我妈妈说这样写不好，</tspan><tspan x="1734" dy="15">可是我想我撒娇了您们就会同意了，所以妈妈</tspan><tspan x="1734" dy="15">说那就这样写吧！期待着您的来电，我妈妈的</tspan><tspan x="1734" dy="15">电话是：xxxxxxxxxx，谢谢！</tspan></text></g>
<g id="k5" class="n c"><polygon points="1729,2921 1735,2907.5 1756,2907.5 1762,2921 1756,2934.5 1735,2934.5"/><text x="1745.5" y="2925.3">此致</text></g>
<g id="k6" class="n c"><polygon points="1729,2972 1735,2958.5 1760,2958.5 1766,2972 1760,2985.5 1735,2985.5"/><text x="1747.5" y="2976.3">敬礼!</text></g>
<g id="k7" class="n c"><polygon points="1729,3024 1735,3010.5 1794,3010.5 1800,3024 1794,3037.5 1735,3037.5"/><text x="1764.5" y="3028.3">申请人：XX</text></g>
<g id="k8" class="n c"><polygon points="1729,3076 1735,3062.5 1886,3062.5 1892,3076 1886,3089.5 1735,3089.5"/><text x="1810.5" y="3080.3">申请日期：20XX年XX月XX日</text></g>

<g id="m1" class="n c"><polygon points="1729,3128 1735,3114.5 1827,3114.5 1833,3128 1827,3141.5 1735,3141.5"/><text x="1781" y="3132.3">敬爱的上级组织：</text></g>
<g id="m2" class="n"><polygon points="1729,3460.5 1735,3402 1967,3402 1973,3460.5 1967,3519 1735,3519"/><text x="1734" y="3420"><tspan x="1734">我园自1998年创办以来，在上级有关部门的</tspan><tspan x="1734" dy="15">正确领导下，以《幼儿园教育指导纲要》以及</tspan><tspan x="1734" dy="15">《幼儿园工作规程》为指针，以"一切为了孩</tspan><tspan x="1734" dy="15">子"的宗旨，积极开展教科研活动，深化教学</tspan><tspan x="1734" dy="15">改革，近年来，随着社会的发展，原有的收费</tspan><tspan x="1734" dy="15">标准已难以维持幼儿园的正常运转，特申请备</tspan><tspan x="1734" dy="15">案幼儿园收费标准，现将有关情况报告如下：</tspan></text></g>
<g id="n1" class="n c"><polygon points="1996,3179 2002,3165.5 2118,3165.5 2124,3179 2118,3192.5 2002,3192.5"/><text x="2060" y="3183.3">名称：xx县百花幼儿园</text></g>
<g id="n2" class="n c"><polygon points="1996,3231 2002,3217.5 2145,3217.5 2151,3231 2145,3244.5 2002,3244.5"/><text x="2073.5" y="3235.3">地址：xx省xx县xx镇xxx号楼</text></g>
<g id="n3" class="n c"><polygon points="1996,3306 2002,3292.5 2068,3292.5 2074,3306 2068,3319.5 2002,3319.5"/><text x="2035" y="3310.3">一、基本情况</text></g>
<g id="n3a" class="n"><polygon points="2103,3304 2109,3268 2341,3268 2347,3304 2341,3340 2109,3340"/><text x="2108" y="3286"><tspan x="2108">我园位于会宁县新时代家苑，占地面积1500</tspan><tspan x="2108" dy="15">多平方米，建筑面积900多平方米，户外活动</tspan><tspan x="2108" dy="15">面积600平方米，布局较为合理，现有教学班</tspan><tspan x="2108" dy="15">10个，406名幼儿，23名教职工。</tspan></text></g>
<g id="n4" class="n c"><polygon points="1996,3426 2002,3412.5 2094,3412.5 2100,3426 2094,3439.5 2002,3439.5"/><text x="2048" y="3430.3">二、收费依据理由</text></g>
<g id="n4a" class="n"><polygon points="2127,3425.5 2133,3367 2365,3367 2371,3425.5 2365,3484 2133,3484"/><text x="2132" y="3385"><tspan x="2132">根据《民办教育促进法》关于《民办幼儿园收</tspan><tspan x="2132" dy="15">费备案的实施细则》精神，并参照我园近三年</tspan><tspan x="2132" dy="15">来收入及支出测算生均教育成本情况，为提高</tspan><tspan x="2132" dy="15">办园质量。更好的培养幼儿，维持幼儿园正常</tspan><tspan x="2132" dy="15">运转，适当提高教职员工待遇，出尽教研教学</tspan><tspan x="2132" dy="15">活动深入开展，服务当地社会发展。特向县价</tspan><tspan x="2132" dy="15">格主管部门申请核定收费标准。</tspan></text></g>
<g id="n5" class="n c"><polygon points="1996,3537 2002,3523.5 2225,3523.5 2231,3537 2225,3550.5 2002,3550.5"/><text x="2113.5" y="3541.3">三、现行收费标准及拟调整收费标准幅度。</text></g>
<g id="n5a" class="n"><polygon points="2255,3537.5 2261,3509 2493,3509 2499,3537.5 2493,3566 2261,3566"/><text x="2260" y="3527"><tspan x="2260">现行收费标准：保教费450元/生学期，学杂</tspan><tspan x="2260" dy="15">费70元/生学期，拟调整收费标准幅度：保教</tspan><tspan x="2260" dy="15">费提高100%，学杂费提高20%。</tspan></text></g>
<g id="n6" class="n"><polygon points="1996,3742 2002,3721 2234,3721 2240,3742 2234,3763 2002,3763"/><text x="2001" y="3739"><tspan x="2001">四、年度收费额和调整后的.收费增减额，对</tspan><tspan x="2001" dy="15">幼儿家长负担及幼儿园收支影响的预期评价。</tspan></text></g>
<g id="o1" class="n"><polygon points="2265,3635.5 2271,3592 2503,3592 2509,3635.5 2503,3679 2271,3679"/><text x="2270" y="3610"><tspan x="2270">若按现行标准收费900元/生、年，则我园年</tspan><tspan x="2270" dy="15">总收入365400元，而年总支出为466900元</tspan><tspan x="2270" dy="15">。可以预见，难以支撑幼儿园发展，若调整标</tspan><tspan x="2270" dy="15">准为1800元/生、年，则有盈余可支持幼儿园</tspan><tspan x="2270" dy="15">长远发展。</tspan></text></g>
<g id="o2" class="n"><polygon points="2265,3754 2271,3703 2503,3703 2509,3754 2503,3805 2271,3805"/><text x="2270" y="3721"><tspan x="2270">通过申请备案收费标准，我园的发展将登上一</tspan><tspan x="2270" dy="15">个新的台阶，师资队伍将得到更好的完善，教</tspan><tspan x="2270" dy="15">具玩具的更新换代也将顺利进行，教学教研活</tspan><tspan x="2270" dy="15">动也将更好的开展，理顺收费关系后，我园可</tspan><tspan x="2270" dy="15">以得到更好的发展，为我县的幼教事业贡献更</tspan><tspan x="2270" dy="15">多的力量。</tspan></text></g>
<g id="o3" class="n"><polygon points="2265,3851 2271,3830 2503,3830 2509,3851 2503,3872 2271,3872"/><text x="2270" y="3848"><tspan x="2270">【备案申请书怎么写 备案申请书范文三篇】</tspan><tspan x="2270" dy="15">相关推荐文章:</tspan></text></g>
</svg>
